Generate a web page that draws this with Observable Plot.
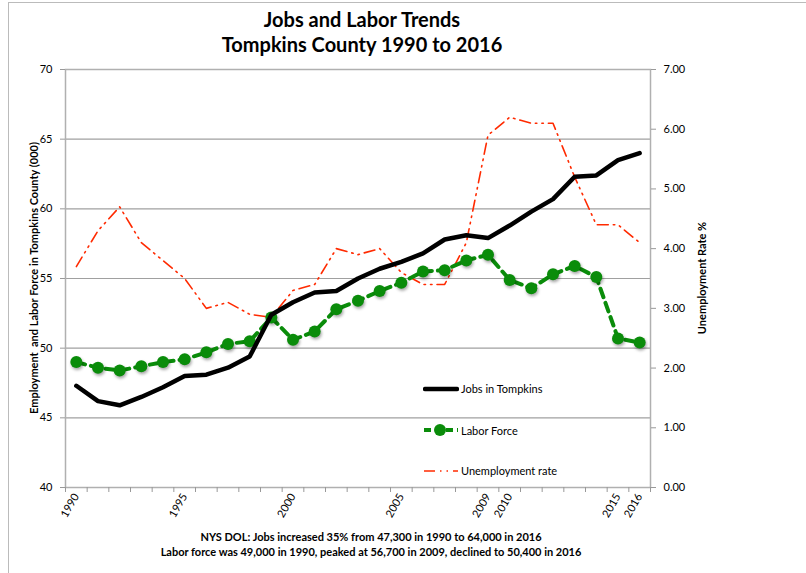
<!DOCTYPE html>
<html>
<head>
<meta charset="utf-8">
<script src="https://cdn.jsdelivr.net/npm/d3@7"></script>
<script src="https://cdn.jsdelivr.net/npm/@observablehq/plot@0.6"></script>
<style>
  body { margin: 0; background: #fff; font-family: Lato, "Open Sans", sans-serif; }
  #wrap { position: relative; width: 806px; height: 573px; overflow: hidden; }
  #border { position: absolute; left: 8px; top: 2px; width: 820px; height: 600px; border-left: 1px solid #bbb; border-top: 1px solid #bbb; }
  .t { position: absolute; font-weight: bold; color: #000; white-space: nowrap; }
  #title { left: 0; width: 724px; top: 7px; text-align: center; font-size: 20px; line-height: 25px; }
  #caption { left: 0; width: 742px; top: 529px; text-align: center; font-size: 11px; line-height: 15px; }
  .rot { position: absolute; transform: translate(-50%, -50%) rotate(-90deg); font-size: 11px; font-weight: bold; white-space: nowrap; }
  #chart { position: absolute; left: 0; top: 0; }
  #chart svg g[aria-label="dot"] circle { filter: drop-shadow(1px 2px 1.5px rgba(0,0,0,0.35)); }
  .leg { position: absolute; font-size: 11px; color: #000; white-space: nowrap; }
</style>
</head>
<body>
<div id="wrap">
  <div id="border"></div>
  <div id="chart"></div>
  <div id="title" class="t">Jobs and Labor Trends<br>Tompkins County 1990 to 2016</div>
  <div class="rot" style="left:33px; top:278px;">Employment&nbsp; and Labor Force in Tompkins County (000)</div>
  <div class="rot" style="left:701px; top:278px;">Unemployment Rate %</div>
  <div id="caption" class="t">NYS DOL: Jobs increased 35% from 47,300 in 1990 to 64,000 in 2016<br>Labor force was 49,000 in 1990, peaked at 56,700 in 2009, declined to 50,400 in 2016</div>
  <div id="legend"></div>
</div>
<script>
const years = d3.range(1990, 2017);
const jobs = [47.3, 46.2, 45.9, 46.5, 47.2, 48.0, 48.1, 48.6, 49.4, 52.4, 53.3, 54.0, 54.1, 55.0, 55.7, 56.2, 56.8, 57.8, 58.1, 57.9, 58.8, 59.8, 60.7, 62.3, 62.4, 63.5, 64.0];
const laborForce = [49.0, 48.6, 48.4, 48.7, 49.0, 49.2, 49.7, 50.3, 50.5, 52.2, 50.6, 51.2, 52.8, 53.4, 54.1, 54.7, 55.5, 55.6, 56.3, 56.7, 54.9, 54.3, 55.3, 55.9, 55.1, 50.7, 50.4];
const unemployment = [3.7, 4.3, 4.7, 4.1, 3.8, 3.5, 3.0, 3.1, 2.9, 2.85, 3.3, 3.4, 4.0, 3.9, 4.0, 3.6, 3.4, 3.4, 4.1, 5.9, 6.2, 6.1, 6.1, 5.2, 4.4, 4.4, 4.1];
const labelYears = [1990, 1995, 2000, 2005, 2009, 2010, 2015, 2016];
const leftTicks = [40, 45, 50, 55, 60, 65, 70];
const rightTicks = [0, 1, 2, 3, 4, 5, 6, 7];
const legendNames = ["Jobs in Tompkins", "Labor Force", "Unemployment rate"];

const GREEN = "#0a8c0a", RED = "#ff2a00";
const L0 = 40, L1 = 70, R0 = 0, R1 = 7;
const toLeft = u => L0 + (u - R0) * (L1 - L0) / (R1 - R0);
const toRight = v => R0 + (v - L0) * (R1 - R0) / (L1 - L0);

const rows = years.map((y, i) => ({year: y, jobs: jobs[i], lf: laborForce[i], ur: toLeft(unemployment[i])}));

const chart = Plot.plot({
  width: 806, height: 573,
  marginLeft: 65, marginRight: 156, marginTop: 69, marginBottom: 86,
  style: {fontFamily: "Lato, 'Open Sans', sans-serif", fontSize: "11px", color: "#000", background: "transparent"},
  x: {domain: [years[0] - 0.5, years[years.length - 1] + 0.5]},
  y: {domain: [L0, L1]},
  marks: [
    Plot.gridY(leftTicks, {stroke: "#a0a0a0", strokeOpacity: 1, strokeWidth: 1.2}),
    Plot.frame({stroke: "#b0b0b0", strokeWidth: 1.5}),
    Plot.axisY({ticks: leftTicks, tickSize: 5, tickPadding: 8, label: null, stroke: "#999"}),
    Plot.axisY({anchor: "right", ticks: rightTicks.map(toLeft), tickSize: 5, tickPadding: 8, label: null,
      tickFormat: v => toRight(v).toFixed(2), stroke: "#999"}),
    Plot.axisX({ticks: [...years.map(y => y - 0.5), years[years.length - 1] + 0.5], tickSize: 5, tickFormat: () => "", label: null, stroke: "#999"}),
    Plot.axisX({ticks: labelYears, tickSize: 0, tickRotate: -60, tickPadding: 7, tickFormat: d => String(d), label: null}),
    Plot.line(rows, {x: "year", y: "ur", stroke: RED, strokeWidth: 1.6, strokeDasharray: "11,5,1.5,5,1.5,5"}),
    Plot.line(rows, {x: "year", y: "lf", stroke: GREEN, strokeWidth: 4, strokeDasharray: "9,6"}),
    Plot.dot(rows, {x: "year", y: "lf", r: 6, fill: GREEN, stroke: "none"}),
    Plot.line(rows, {x: "year", y: "jobs", stroke: "#000", strokeWidth: 4.5, strokeLinejoin: "round"})
  ]
});
document.getElementById("chart").appendChild(chart);

// legend
const leg = document.getElementById("legend");
const swatches = [
  `<svg width="36" height="12"><line x1="2" y1="6" x2="34" y2="6" stroke="#000" stroke-width="4.5" stroke-linecap="round"/></svg>`,
  `<svg width="36" height="14"><line x1="1" y1="7" x2="35" y2="7" stroke="${GREEN}" stroke-width="4" stroke-dasharray="7,4"/><circle cx="17" cy="7" r="6" fill="${GREEN}"/></svg>`,
  `<svg width="36" height="12"><line x1="1" y1="6" x2="35" y2="6" stroke="${RED}" stroke-width="1.6" stroke-dasharray="11,5,1.5,5,1.5,5"/></svg>`
];
const legY = [390, 431, 472];
legendNames.forEach((name, i) => {
  const d = document.createElement("div");
  d.className = "leg";
  d.style.left = "423px";
  d.style.top = (legY[i] - 8) + "px";
  d.style.display = "flex";
  d.style.alignItems = "center";
  d.innerHTML = swatches[i] + `<span style="margin-left:2px">${name}</span>`;
  leg.appendChild(d);
});
</script>
</body>
</html>
